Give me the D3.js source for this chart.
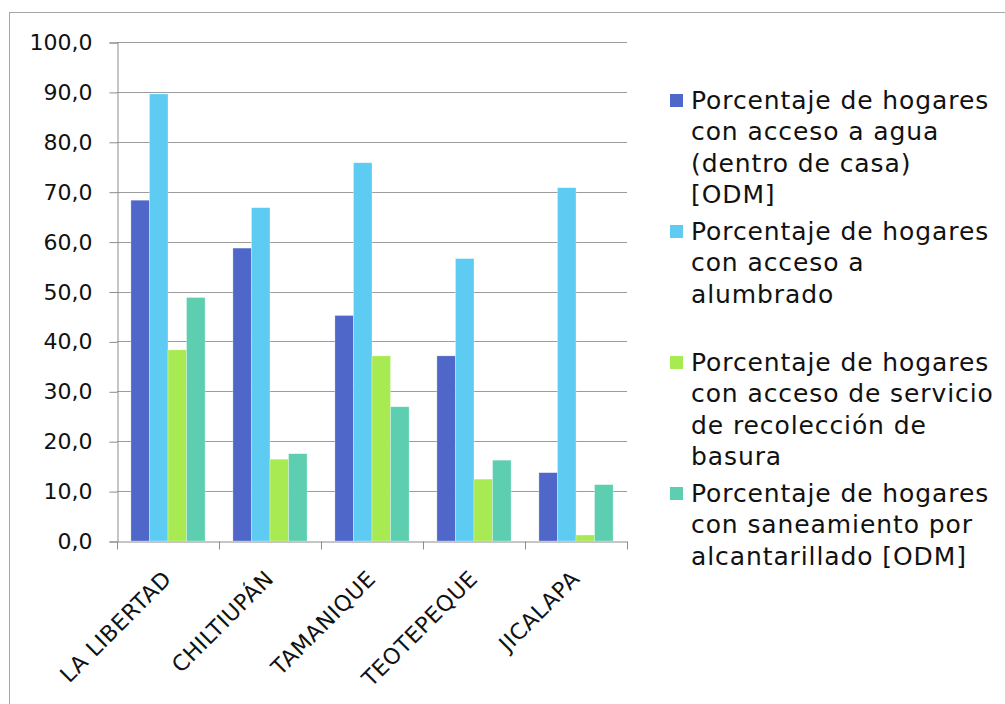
<!DOCTYPE html>
<html>
<head>
<meta charset="utf-8">
<script src="https://cdn.jsdelivr.net/npm/d3@7"></script>
<style>
  body { margin: 0; background: #fff; }
  text { font-family: "DejaVu Sans", sans-serif; fill: #111; }
</style>
</head>
<body>
<script>
  let categories = ["LA LIBERTAD", "CHILTIUPÁN", "TAMANIQUE", "TEOTEPEQUE", "JICALAPA"];
  let seriesNames = [
    ["Porcentaje de hogares", "con acceso a agua", "(dentro de casa)", "[ODM]"],
    ["Porcentaje de hogares", "con acceso a", "alumbrado"],
    ["Porcentaje de hogares", "con acceso de servicio", "de recolección de", "basura"],
    ["Porcentaje de hogares", "con saneamiento por", "alcantarillado [ODM]"]
  ];
  let agua       = [68.3, 58.7, 45.2, 37.1, 13.7];
  let alumbrado  = [89.6, 66.8, 75.8, 56.6, 70.8];
  let basura     = [38.3, 16.4, 37.1, 12.4, 1.2];
  let saneamiento = [48.8, 17.5, 26.9, 16.2, 11.3];
  let yTicks = [0, 10, 20, 30, 40, 50, 60, 70, 80, 90, 100];

  let series = [agua, alumbrado, basura, saneamiento];
  let colors = ["#4f67c8", "#5ecbf3", "#a8ea52", "#5dceaf"];

  let width = 1005, height = 704;
  let pLeft = 117, pRight = 627, pTop = 42, pBottom = 541;

  let svg = d3.select("body").append("svg")
    .attr("width", width).attr("height", height);

  // outer chart border
  svg.append("rect")
    .attr("x", 9.5).attr("y", 12.5)
    .attr("width", 1100).attr("height", 800)
    .style("fill", "none").style("stroke", "#a6a6a6");

  let y = d3.scaleLinear().domain([0, 100]).range([pBottom, pTop]);
  let x0 = d3.scaleBand().domain(categories).range([pLeft, pRight]).padding(0);
  let x1 = d3.scaleBand().domain(d3.range(series.length))
    .range([0, x0.bandwidth()]).paddingInner(0).paddingOuter(0.75);

  // gridlines
  svg.append("g")
    .selectAll("line")
    .data(yTicks.filter(d => d > 0))
    .enter()
    .append("line")
      .attr("x1", pLeft).attr("x2", pRight)
      .attr("y1", d => Math.round(y(d)) + 0.5)
      .attr("y2", d => Math.round(y(d)) + 0.5)
      .style("stroke", "#9c9c9c").style("stroke-width", 1);

  // bars
  series.forEach(function(vals, s) {
    svg.append("g")
      .selectAll("rect")
      .data(vals)
      .enter()
      .append("rect")
        .attr("x", (d, i) => x0(categories[i]) + x1(s))
        .attr("y", d => y(d))
        .attr("width", x1.bandwidth())
        .attr("height", d => y(0) - y(d))
        .style("fill", colors[s])
        .style("stroke", "#ffffff").style("stroke-opacity", 0.5).style("stroke-width", 0.6);
  });

  // y axis
  let yAxis = d3.axisLeft(y).tickValues(yTicks).tickSize(8).tickPadding(17)
    .tickFormat(d => d3.format(".1f")(d).replace(".", ","));
  let gy = svg.append("g")
    .attr("transform", "translate(" + (pLeft + 0.5) + ",0.5)")
    .call(yAxis);
  gy.selectAll("line, path").style("stroke", "#8c8c8c");
  gy.selectAll("text").style("font-size", "22px").style("fill", "#111")
    .style("font-family", "DejaVu Sans");

  // x axis
  let xAxis = d3.axisBottom(x0).tickSize(0).tickFormat("");
  let gx = svg.append("g")
    .attr("transform", "translate(0," + (pBottom + 0.5) + ")")
    .call(xAxis);
  gx.select("path").style("stroke", "#8c8c8c");
  gx.selectAll(".bound")
    .data(d3.range(categories.length + 1))
    .enter()
    .append("line")
      .attr("class", "bound")
      .attr("x1", d => Math.round(pLeft + d * x0.step()) + 0.5)
      .attr("x2", d => Math.round(pLeft + d * x0.step()) + 0.5)
      .attr("y1", 0).attr("y2", 8)
      .style("stroke", "#8c8c8c");

  svg.append("g")
    .selectAll("text")
    .data(categories)
    .enter()
    .append("text")
      .attr("transform", d => "translate(" + (x0(d) + x0.bandwidth() / 2 + 5) + "," + (pBottom + 39) + ") rotate(-45)")
      .attr("text-anchor", "end")
      .style("font-size", "22px")
      .style("letter-spacing", "0.6px")
      .text(d => d);

  // legend
  let legend = svg.append("g").attr("transform", "translate(670,0)");
  seriesNames.forEach(function(lines, s) {
    let base = 109 + s * 131;
    legend.append("rect")
      .attr("x", 0).attr("y", base - 15)
      .attr("width", 13).attr("height", 13)
      .style("fill", colors[s]);
    legend.append("g")
      .selectAll("text")
      .data(lines)
      .enter()
      .append("text")
        .attr("x", 21)
        .attr("y", (d, i) => base + i * 31.3)
        .style("font-size", "25px")
        .style("letter-spacing", "0.9px")
        .text(d => d);
  });
</script>
</body>
</html>
